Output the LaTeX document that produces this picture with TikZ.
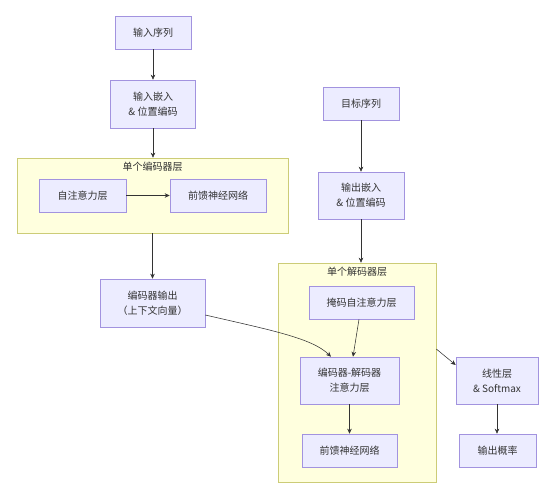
\documentclass[tikz,border=0pt]{standalone}
\usepackage{fontspec}
\setmainfont{Noto Sans CJK SC}
\usetikzlibrary{arrows.meta}
\definecolor{nodefill}{HTML}{ECECFF}
\definecolor{nodeline}{HTML}{A293DF}
\definecolor{clfill}{HTML}{FFFFDE}
\definecolor{clline}{HTML}{CCCC77}
\definecolor{txt}{HTML}{333333}
\tikzset{
  box/.style={draw=nodeline, fill=nodefill, line width=0.6pt, text=txt,
    align=center, inner sep=0pt, font=\fontsize{10}{15}\selectfont},
  cluster/.style={draw=clline, fill=clfill, line width=0.6pt, inner sep=0pt},
  cltitle/.style={text=txt, inner sep=0pt, font=\fontsize{10}{15}\selectfont},
  conn/.style={draw=txt, line width=0.55pt, -{Stealth[length=5pt,width=4.5pt]}},
}
\begin{document}
\begin{tikzpicture}[x=1pt,y=-1pt]
\useasboundingbox[fill=white] (0,0) rectangle (555,500);
% clusters
\node[cluster, minimum width=271pt, minimum height=75pt] (encc) at (152.5,195.5) {};
\node[cltitle] (enct) at (152.5,166.5) {单个编码器层};
\node[cluster, minimum width=158pt, minimum height=219pt] (decc) at (357,372.5) {};
\node[cltitle] (dect) at (357,271.5) {单个解码器层};
% encoder side
\node[box, minimum width=76pt, minimum height=33pt] (in) at (153,32.5) {输入序列};
\node[box, minimum width=85pt, minimum height=48pt] (emb) at (153,104) {输入嵌入\\\& 位置编码};
\node[box, minimum width=87pt, minimum height=33pt] (sa) at (82.5,195.5) {自注意力层};
\node[box, minimum width=96pt, minimum height=33pt] (ffn) at (218,195.5) {前馈神经网络};
\node[box, minimum width=105pt, minimum height=48pt] (eout) at (152.5,303) {编码器输出\\（上下文向量）};
% decoder side
\node[box, minimum width=76pt, minimum height=33pt] (tgt) at (361,103.5) {目标序列};
\node[box, minimum width=86pt, minimum height=47pt] (oemb) at (361,195.5) {输出嵌入\\\& 位置编码};
\node[box, minimum width=105pt, minimum height=33pt] (msa) at (361.5,302.5) {掩码自注意力层};
\node[box, minimum width=99pt, minimum height=47pt] (eda) at (349.5,380.5) {编码器-解码器\\注意力层};
\node[box, minimum width=95pt, minimum height=33pt] (dffn) at (349.5,450.5) {前馈神经网络};
\node[box, minimum width=82pt, minimum height=47pt] (lin) at (497,380.5) {线性层\\\& Softmax};
\node[box, minimum width=77pt, minimum height=33pt] (outp) at (497.5,450.5) {输出概率};
% connectors
\draw[conn] (in.south) -- (emb.north);
\draw[conn] (emb.south) -- (emb.south |- encc.north);
\draw[conn] (sa.east) -- (ffn.west);
\draw[conn] (eout.north |- encc.south) -- (eout.north);
\draw[conn] (tgt.south) -- (oemb.north);
\draw[conn] (oemb.south) -- (oemb.south |- decc.north);
\draw[conn] ([xshift=-2.5pt]msa.south) -- ([xshift=3.5pt]eda.north);
\draw[conn] ([yshift=-12pt]eout.east) .. controls (270,330) and (312,338) .. ([xshift=-18.5pt]eda.north);
\draw[conn] (eda.south) -- (dffn.north);
\draw[conn] ([yshift=23.5pt]decc.east) -- ([yshift=15.5pt]lin.west);
\draw[conn] (lin.south) -- (lin.south |- outp.north);
\end{tikzpicture}
\end{document}
